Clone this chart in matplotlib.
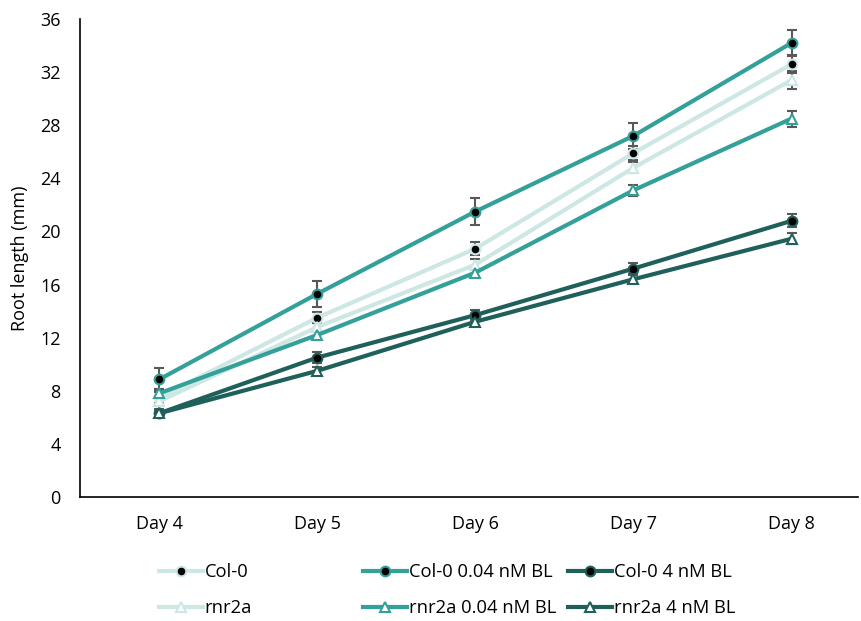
import matplotlib.pyplot as plt
import numpy as np

plt.rcParams['font.family'] = ['Open Sans', 'DejaVu Sans']

days = ["Day 4", "Day 5", "Day 6", "Day 7", "Day 8"]

col0 = [7.5, 13.5, 18.7, 25.9, 32.6]
col0_err = [0.4, 0.4, 0.5, 0.5, 0.7]
col0_004 = [8.85, 15.3, 21.5, 27.2, 34.2]
col0_004_err = [0.9, 1.0, 1.0, 1.0, 1.0]
col0_4 = [6.3, 10.5, 13.7, 17.2, 20.8]
col0_4_err = [0.3, 0.4, 0.4, 0.4, 0.5]
rnr2a = [7.2, 12.8, 17.5, 24.8, 31.4]
rnr2a_err = [0.3, 0.3, 0.4, 0.4, 0.7]
rnr2a_004 = [7.8, 12.2, 16.9, 23.1, 28.5]
rnr2a_004_err = [0.3, 0.3, 0.3, 0.4, 0.6]
rnr2a_4 = [6.3, 9.5, 13.2, 16.4, 19.45]
rnr2a_4_err = [0.2, 0.3, 0.3, 0.3, 0.4]

light = "#cde7e4"
mid = "#34a09a"
dark = "#1f605b"

series = [
    ("Col-0", col0, col0_err, light, "o", "black"),
    ("Col-0 0.04 nM BL", col0_004, col0_004_err, mid, "o", "black"),
    ("Col-0 4 nM BL", col0_4, col0_4_err, dark, "o", "black"),
    ("rnr2a", rnr2a, rnr2a_err, light, "^", "white"),
    ("rnr2a 0.04 nM BL", rnr2a_004, rnr2a_004_err, mid, "^", "white"),
    ("rnr2a 4 nM BL", rnr2a_4, rnr2a_4_err, dark, "^", "white"),
]

fig = plt.figure(figsize=(8.61, 6.21), dpi=100)
ax = fig.add_axes([80 / 861, 1 - 497 / 621, (858 - 80) / 861, (497 - 19) / 621])

x = np.arange(len(days))
handles = {}
for name, vals, err, color, marker, face in series:
    ax.errorbar(x, vals, yerr=err, fmt="none", ecolor="#595959",
                elinewidth=1.5, capsize=3.3, capthick=1.5, zorder=2)
    line, = ax.plot(x, vals, color=color, lw=3, marker=marker, ms=7,
                    mfc=face, mec=color, mew=1.5, zorder=3)
    handles[name] = line

ax.set_xlim(-0.5, 4.42)
ax.set_ylim(0, 36)
ax.set_yticks(np.arange(0, 37, 4))
ax.set_xticks(x)
ax.set_xticklabels(days)
ax.tick_params(length=0, labelsize=13, colors="#000000")
ax.tick_params(axis="y", pad=14)
ax.tick_params(axis="x", pad=13)
ax.set_ylabel("Root length (mm)", fontsize=13, labelpad=8)
for s in ["top", "right"]:
    ax.spines[s].set_visible(False)
for s in ["left", "bottom"]:
    ax.spines[s].set_linewidth(1.2)
    ax.spines[s].set_color("#000000")

# one legend per column so the columns sit at even spacing, as in Excel
columns = [("Col-0", "rnr2a"),
           ("Col-0 0.04 nM BL", "rnr2a 0.04 nM BL"),
           ("Col-0 4 nM BL", "rnr2a 4 nM BL")]
col_x = [159, 363, 568]
for names, px in zip(columns, col_x):
    fig.legend([handles[n] for n in names], names, loc="upper left",
               bbox_to_anchor=(px / 861, 1 - 563 / 621), frameon=False,
               fontsize=13.2, handlelength=2.4, handletextpad=0.1,
               labelspacing=0.98, borderpad=0, borderaxespad=0)

fig.savefig("out.png", dpi=100)
